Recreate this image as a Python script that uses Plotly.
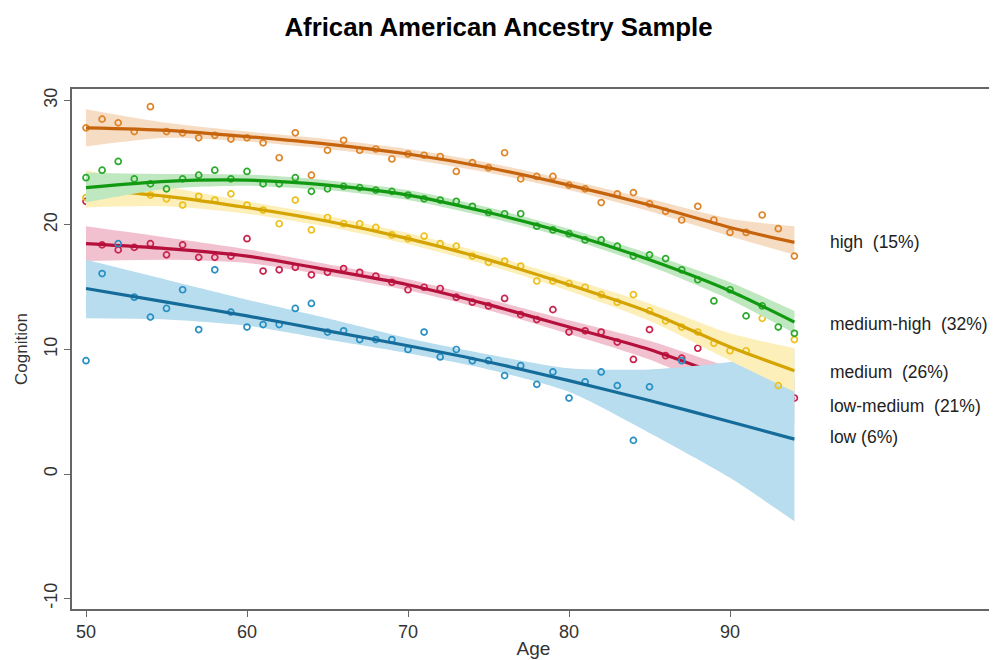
import plotly.graph_objects as go

AGES = list(range(50, 95))
FIT_AGES = [50, 55, 60, 65, 70, 75, 80, 85, 90, 94]

# ---- high (15%) ----
HIGH_PTS = [27.8, 28.5, 28.2, 27.5, 29.5, 27.5, 27.4, 27.0, 27.2, 26.9,
            27.0, 26.6, 25.4, 27.4, 24.0, 26.0, 26.8, 26.0, 26.1, 25.3,
            25.7, 25.6, 25.5, 24.3, 25.0, 24.6, 25.8, 23.7, 23.9, 23.9,
            23.2, 22.9, 21.8, 22.5, 22.6, 21.7, 21.1, 20.4, 21.5, 20.4,
            19.4, 19.4, 20.8, 19.7, 17.5]
HIGH_FIT = [27.8, 27.6, 27.1, 26.5, 25.7, 24.6, 23.2, 21.6, 19.8, 18.6]
HIGH_LO = [26.3, 27.0, 26.7, 26.1, 25.3, 24.2, 22.8, 21.1, 19.1, 17.6]
HIGH_HI = [29.3, 28.2, 27.5, 26.9, 26.1, 25.0, 23.6, 22.1, 20.5, 19.9]

# ---- medium-high (32%) ----
MEDHIGH_PTS = [23.8, 24.4, 25.1, 23.7, 23.3, 22.9, 23.7, 24.0, 24.4, 23.7,
               24.3, 23.3, 23.3, 23.8, 22.7, 22.9, 23.1, 23.0, 22.8, 22.7,
               22.4, 22.1, 22.0, 21.9, 21.5, 21.0, 20.9, 20.9, 19.9, 19.6,
               19.3, 18.8, 18.8, 18.3, 17.5, 17.6, 17.3, 16.4, 15.6, 13.9,
               14.8, 12.7, 13.5, 11.8, 11.3]
MEDHIGH_FIT = [23.0, 23.5, 23.6, 23.2, 22.4, 21.0, 19.3, 17.2, 14.7, 12.2]
MEDHIGH_LO = [21.8, 22.9, 23.15, 22.8, 22.0, 20.6, 18.9, 16.7, 14.0, 11.3]
MEDHIGH_HI = [24.2, 24.1, 24.05, 23.6, 22.8, 21.4, 19.7, 17.7, 15.4, 13.1]

# ---- medium (26%) ----
MED_PTS = [22.2, 23.0, 22.6, 22.9, 22.4, 22.1, 21.6, 22.3, 22.0, 22.5,
           21.6, 21.2, 20.1, 22.0, 19.6, 20.6, 20.1, 20.1, 19.8, 19.2,
           18.9, 19.1, 18.5, 18.3, 17.5, 17.0, 17.1, 16.7, 15.5, 15.5,
           15.3, 15.0, 14.4, 13.8, 14.4, 13.1, 12.3, 11.8, 11.4, 10.5,
           9.9, 9.9, 12.5, 7.1, 10.8]
MED_FIT = [22.9, 22.3, 21.4, 20.3, 18.9, 17.2, 15.2, 13.0, 10.2, 8.3]
MED_LO = [21.4, 21.5, 20.9, 19.85, 18.45, 16.75, 14.7, 12.3, 9.1, 6.6]
MED_HI = [24.4, 23.1, 21.9, 20.75, 19.35, 17.65, 15.7, 13.7, 11.3, 10.1]

# ---- low-medium (21%) ----
LOWMED_PTS = [21.9, 18.4, 18.0, 18.2, 18.5, 17.6, 18.4, 17.4, 17.4, 17.5,
              18.9, 16.3, 16.4, 16.6, 16.0, 16.2, 16.5, 16.2, 15.9, 15.4,
              14.8, 15.0, 14.9, 14.2, 13.8, 13.5, 14.1, 12.8, 12.4, 13.2,
              11.4, 11.5, 11.4, 10.6, 9.2, 11.6, 9.5, 9.3, 10.1, 8.2,
              7.9, 7.3, 6.9, 6.6, 6.1]
LOWMED_FIT = [18.5, 18.1, 17.5, 16.4, 15.2, 13.6, 11.8, 10.0, 7.7, 6.0]
LOWMED_LO = [17.1, 17.2, 16.95, 15.95, 14.75, 13.15, 11.25, 9.2, 6.4, 4.1]
LOWMED_HI = [19.9, 19.0, 18.05, 16.85, 15.65, 14.05, 12.35, 10.7, 8.6, 7.5]

# ---- low (6%) ----
LOW_PTS = [9.1, 16.1, 18.5, 14.2, 12.6, 13.3, 14.8, 11.6, 16.4, 13.0,
           11.8, 12.0, 12.0, 13.3, 13.7, 11.4, 11.5, 10.8, 10.8, 10.8,
           10.0, 11.4, 9.4, 10.0, 9.1, 9.1, 7.9, 8.7, 7.2, 8.2,
           6.1, 7.4, 8.2, 7.1, 2.7, 7.0, None, 9.1, None, None,
           None, None, None, None, None]
LOW_FIT = [14.9, 13.8, 12.7, 11.5, 10.3, 9.0, 7.5, 5.9, 4.2, 2.8]
LOW_LO = [12.5, 12.4, 11.9, 10.8, 9.7, 8.4, 6.6, 3.3, -0.3, -3.8]
LOW_HI = [17.2, 15.6, 14.0, 12.5, 10.9, 9.6, 8.5, 8.4, 9.0, 10.0]

LABELS = ["high  (15%)", "medium-high  (32%)", "medium  (26%)",
          "low-medium  (21%)", "low (6%)"]
LABEL_Y = [18.6, 12.05, 8.2, 5.5, 3.0]

X_TICKS = [50, 60, 70, 80, 90]
Y_TICKS = [-10, 0, 10, 20, 30]
Y_TICK_TEXT = ["-10", "0", "10", "20", "30"]

GROUPS = {
    "low-medium": dict(pts=LOWMED_PTS, fit=LOWMED_FIT, lo=LOWMED_LO, hi=LOWMED_HI,
                       line="#B5103C", marker="#C8244E", band="#F2C1CF"),
    "low": dict(pts=LOW_PTS, fit=LOW_FIT, lo=LOW_LO, hi=LOW_HI,
                line="#156C9A", marker="#2A90C2", band="#B7DDEE"),
    "medium": dict(pts=MED_PTS, fit=MED_FIT, lo=MED_LO, hi=MED_HI,
                   line="#D5A400", marker="#EDC01C", band="#FCEFB9"),
    "medium-high": dict(pts=MEDHIGH_PTS, fit=MEDHIGH_FIT, lo=MEDHIGH_LO, hi=MEDHIGH_HI,
                        line="#119A11", marker="#2CAA2C", band="#C0E8C0"),
    "high": dict(pts=HIGH_PTS, fit=HIGH_FIT, lo=HIGH_LO, hi=HIGH_HI,
                 line="#C5640C", marker="#DF8529", band="#F7DCC4"),
}

FONT = "Liberation Sans, Arial"

fig = go.Figure()
for name, g in GROUPS.items():
    fig.add_trace(go.Scatter(
        x=FIT_AGES, y=g["lo"], mode="lines",
        line=dict(width=0, color=g["band"], shape="spline", smoothing=0.7),
        hoverinfo="skip", showlegend=False))
    fig.add_trace(go.Scatter(
        x=FIT_AGES, y=g["hi"], mode="lines", fill="tonexty", fillcolor=g["band"],
        line=dict(width=0, color=g["band"], shape="spline", smoothing=0.7),
        hoverinfo="skip", showlegend=False))
    fig.add_trace(go.Scatter(
        x=AGES, y=g["pts"], mode="markers",
        marker=dict(symbol="circle-open", size=6, color=g["marker"],
                    line=dict(width=1.7, color=g["marker"])),
        showlegend=False, name=name))
    fig.add_trace(go.Scatter(
        x=FIT_AGES, y=g["fit"], mode="lines",
        line=dict(width=3.2, color=g["line"], shape="spline", smoothing=0.7),
        showlegend=False, name=name))

for lab, yv in zip(LABELS, LABEL_Y):
    fig.add_annotation(x=96.1, y=yv, text=lab, showarrow=False,
                       xanchor="left", yanchor="middle",
                       font=dict(family=FONT, size=17.5, color="#222"))

fig.update_layout(
    width=997, height=660,
    margin=dict(l=64, r=10, t=81, b=59),
    paper_bgcolor="white", plot_bgcolor="white",
    title=dict(text="<b>African American Ancestry Sample</b>", x=0.492, xanchor="center",
               y=0.972, yanchor="middle",
               font=dict(family=FONT, size=25.8, color="#000")),
    font=dict(family=FONT, color="#333"),
)
fig.update_xaxes(range=[49.13, 106.46], tickvals=X_TICKS, automargin=False,
                 showgrid=False, zeroline=False, showline=True, linecolor="#666",
                 linewidth=1.5, mirror=True, ticks="outside", ticklen=6, tickcolor="#666",
                 tickfont=dict(size=18, color="#333"),
                 title=dict(text="Age", font=dict(size=19, color="#333"), standoff=0))
fig.update_yaxes(range=[-10.84, 30.92], tickvals=Y_TICKS, ticktext=Y_TICK_TEXT,
                 automargin=False,
                 showgrid=False, zeroline=False, showline=True, linecolor="#666",
                 linewidth=1.5, ticks="outside", ticklen=6, tickcolor="#666",
                 tickangle=-90, tickfont=dict(size=18, color="#333"),
                 title=dict(text="Cognition", font=dict(size=17, color="#333"), standoff=9))

fig.write_html("out.html")
